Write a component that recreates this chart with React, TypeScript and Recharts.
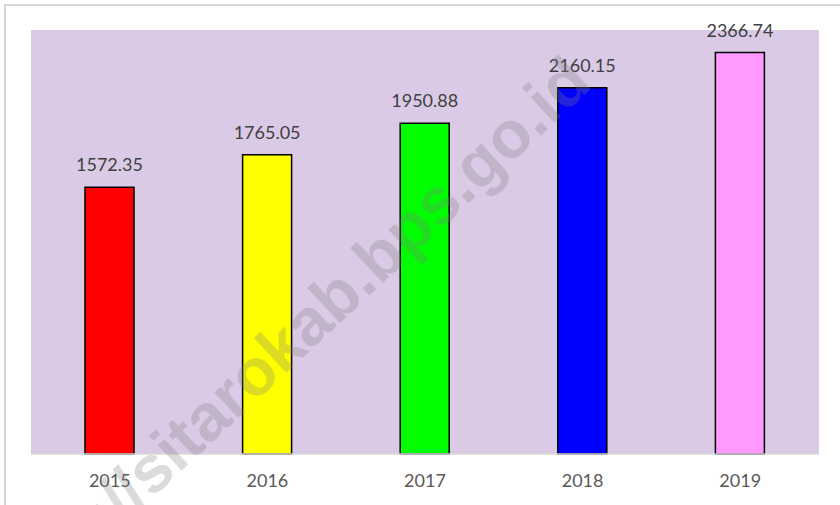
import React from "react";
import { BarChart, Bar, XAxis, YAxis, CartesianGrid, Cell, LabelList } from "recharts";

const years = ["2015", "2016", "2017", "2018", "2019"];
const values = [1572.35, 1765.05, 1950.88, 2160.15, 2366.74];
const colors = ["#ff0000", "#ffff00", "#00ff00", "#0000ff", "#ff99ff"];

const data = years.map((year, i) => ({ year, value: values[i] }));

const font = "Lato, 'Open Sans', sans-serif";

const App: React.FC = () => (
  <div style={{ position: "absolute", left: 0, top: 0, width: 840, height: 505, overflow: "hidden", background: "#fff", fontFamily: font }}>
    <svg width={840} height={505} style={{ position: "absolute", left: 0, top: 0 }}>
      <rect x={5} y={5} width={850} height={520} fill="#fff" stroke="#d6d6d6" strokeWidth={2} />
    </svg>
    <div style={{ position: "absolute", left: 0, top: 0 }}>
      <BarChart width={840} height={505} data={data} margin={{ top: 30, right: 21, left: 31, bottom: 11 }}>
        <CartesianGrid fill="#dbcae6" horizontal={false} vertical={false} />
        <XAxis
          dataKey="year"
          height={40}
          axisLine={{ stroke: "#d9d9d9", strokeWidth: 1.5 }}
          tickLine={false}
          tickSize={0}
          tickMargin={20}
          tick={{ fill: "#595959", fontSize: 18, fontFamily: font }}
        />
        <YAxis hide domain={[0, 2500]} />
        <Bar dataKey="value" barSize={49} stroke="#000" strokeWidth={1.5} isAnimationActive={false}>
          {data.map((d, i) => (
            <Cell key={d.year} fill={colors[i]} />
          ))}
          <LabelList dataKey="value" position="top" offset={16} fill="#404040" fontSize={18} fontFamily={font} formatter={(v: number) => v.toFixed(2)} />
        </Bar>
      </BarChart>
    </div>
    {/* watermark */}
    <svg width={840} height={505} style={{ position: "absolute", left: 0, top: 0, pointerEvents: "none" }}>
      <text
        x={594}
        y={86}
        textAnchor="end"
        transform="rotate(-43 594 86)"
        fontFamily="'Liberation Sans', Arial, sans-serif"
        fontWeight="bold"
        fontSize={66}
        fill="#7f7f7f"
        fillOpacity={0.28}
      >
        https://sitarokab.bps.go.id
      </text>
    </svg>
  </div>
);

export default App;
